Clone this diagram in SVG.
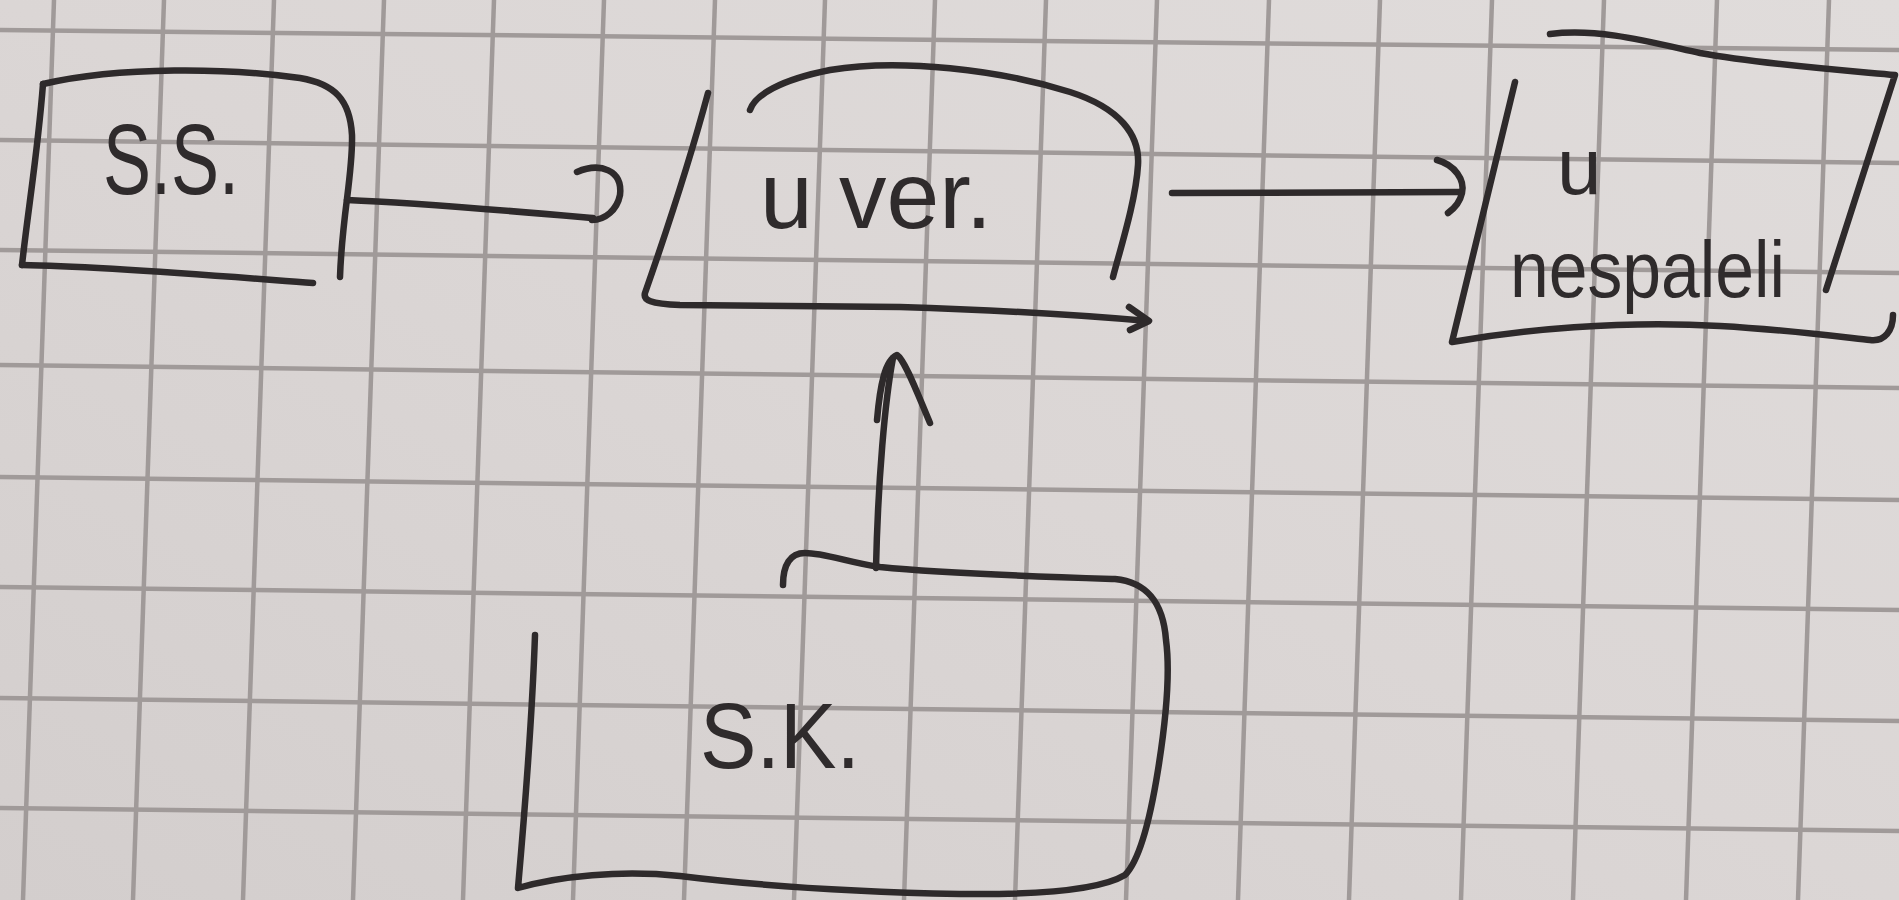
<svg xmlns="http://www.w3.org/2000/svg" width="1899" height="900" viewBox="0 0 1899 900">
  <defs>
    <linearGradient id="paperGrad" x1="0" y1="1" x2="1" y2="0">
      <stop offset="0" stop-color="#d3cecd"/>
      <stop offset="0.5" stop-color="#dbd6d5"/>
      <stop offset="1" stop-color="#e0dcdb"/>
    </linearGradient>
  </defs>
  <style>
    .grid { stroke: #a09a99; stroke-width: 4.5; fill: none; }
    .ink { stroke: #2e2a2b; stroke-width: 6.5; fill: none; stroke-linecap: round; stroke-linejoin: round; }
    .hand { font-family: "Liberation Sans", "DejaVu Sans", sans-serif; fill: #2f2b2c; }
  </style>

  <g id="paper">
    <rect x="0" y="0" width="1899" height="900" fill="url(#paperGrad)"/>
    <g class="grid">
      <line x1="0" y1="30" x2="1899" y2="50"/>
      <line x1="0" y1="140" x2="1899" y2="163"/>
      <line x1="0" y1="250" x2="1899" y2="273"/>
      <line x1="0" y1="365" x2="1899" y2="388"/>
      <line x1="0" y1="477" x2="1899" y2="500"/>
      <line x1="0" y1="587" x2="1899" y2="610"/>
      <line x1="0" y1="698" x2="1899" y2="721"/>
      <line x1="0" y1="808" x2="1899" y2="831"/>
      <line x1="54" y1="0" x2="23" y2="900"/>
      <line x1="164" y1="0" x2="133" y2="900"/>
      <line x1="274" y1="0" x2="243" y2="900"/>
      <line x1="384" y1="0" x2="353" y2="900"/>
      <line x1="494" y1="0" x2="463" y2="900"/>
      <line x1="604" y1="0" x2="573" y2="900"/>
      <line x1="715" y1="0" x2="684" y2="900"/>
      <line x1="825" y1="0" x2="794" y2="900"/>
      <line x1="935" y1="0" x2="904" y2="900"/>
      <line x1="1046" y1="0" x2="1015" y2="900"/>
      <line x1="1157" y1="0" x2="1126" y2="900"/>
      <line x1="1269" y1="0" x2="1238" y2="900"/>
      <line x1="1380" y1="0" x2="1349" y2="900"/>
      <line x1="1492" y1="0" x2="1461" y2="900"/>
      <line x1="1604" y1="0" x2="1573" y2="900"/>
      <line x1="1717" y1="0" x2="1686" y2="900"/>
      <line x1="1829" y1="0" x2="1798" y2="900"/>
    </g>
  </g>

  <g id="node-ss">
    <path class="ink" d="M43,84 C38,150 28,210 22,265"/>
    <path class="ink" d="M22,265 C100,266 220,276 313,283"/>
    <path class="ink" d="M43,84 C120,66 230,68 300,78 C335,84 350,100 352,135 C353,175 342,215 340,277"/>
    <text class="hand" x="103" y="194" font-size="100" textLength="136" lengthAdjust="spacingAndGlyphs">S.S.</text>
  </g>

  <g id="node-uver">
    <path class="ink" d="M708,93 C690,160 660,250 645,293 C643,300 650,304 680,305 L900,307 C1000,310 1080,315 1148,321"/>
    <path class="ink" d="M1129,307 L1149,321 L1130,330"/>
    <path class="ink" d="M750,110 C755,95 780,80 830,70 C900,58 1000,70 1070,92 C1120,108 1140,135 1138,165 C1136,200 1120,250 1113,277"/>
    <text class="hand" x="760" y="228" font-size="95" textLength="232" lengthAdjust="spacingAndGlyphs">u ver.</text>
  </g>

  <g id="node-nespaleli">
    <path class="ink" d="M1515,82 L1452,342 C1520,330 1620,320 1720,326 C1790,330 1850,338 1870,340 C1885,342 1893,330 1893,315"/>
    <path class="ink" d="M1550,34 C1600,28 1650,42 1700,53 C1760,64 1840,70 1895,75 L1826,290"/>
    <text class="hand" x="1557" y="194" font-size="80">u</text>
    <text class="hand" x="1510" y="297" font-size="80" textLength="275" lengthAdjust="spacingAndGlyphs">nespaleli</text>
  </g>

  <g id="node-sk">
    <path class="ink" d="M535,635 C532,720 524,820 518,888 C560,876 620,870 680,876 C760,886 860,892 960,894 C1040,895 1100,890 1125,875 C1140,860 1150,820 1158,770 C1166,720 1170,670 1166,640 C1163,600 1145,582 1115,579 C1050,577 950,574 880,567 C850,563 825,553 805,553 C790,553 783,565 783,585"/>
    <text class="hand" x="700" y="768" font-size="92" textLength="160" lengthAdjust="spacingAndGlyphs">S.K.</text>
  </g>

  <g id="connectors">
    <g id="edge-ss-uver">
      <path class="ink" d="M347,200 C420,203 500,210 593,218"/>
      <path class="ink" d="M577,172 C600,162 623,170 620,195 C617,210 605,220 592,220"/>
    </g>
    <g id="edge-uver-nespaleli">
      <path class="ink" d="M1172,193 L1460,192"/>
      <path class="ink" d="M1437,160 C1455,165 1465,180 1462,193 C1460,202 1455,208 1448,213"/>
    </g>
    <g id="edge-sk-uver">
      <path class="ink" d="M876,568 C878,480 885,400 893,358"/>
      <path class="ink" d="M877,420 C880,385 885,360 897,355 C905,360 918,395 930,423"/>
    </g>
  </g>
</svg>
